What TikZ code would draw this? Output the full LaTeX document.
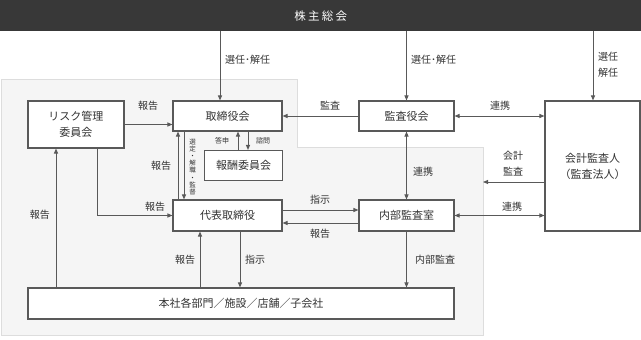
\documentclass[tikz,border=0pt]{standalone}
\usepackage{fontspec}
\setmainfont{Noto Sans CJK JP}
\usetikzlibrary{arrows.meta}
\definecolor{linec}{HTML}{595959}
\definecolor{textc}{HTML}{333333}
\definecolor{barc}{HTML}{383838}
\definecolor{regionc}{HTML}{F5F5F5}
\definecolor{regionb}{HTML}{DDDDDD}
\begin{document}
\begin{tikzpicture}[x=1pt,y=-1pt,
  box/.style={draw=linec, line width=1.1pt, fill=white, inner sep=0pt, text=textc, font=\fontsize{11}{16}\selectfont, align=center},
  arr/.style={draw=linec, line width=1pt, -{Triangle[length=5pt,width=4pt]}},
  darr/.style={draw=linec, line width=1pt, {Triangle[length=5pt,width=4pt]}-{Triangle[length=5pt,width=4pt]}},
  lbl/.style={text=textc, font=\fontsize{10}{16}\selectfont, inner sep=0pt, align=center},
  small/.style={text=textc, font=\fontsize{6.5}{7.2}\selectfont, inner sep=0pt, align=center}]
\useasboundingbox (0,0) rectangle (641,340);
\fill[white] (0,0) rectangle (641,340);
\filldraw[fill=regionc, draw=regionb, line width=0.8pt] (1,79) -- (297,79) -- (297,147) -- (483,147) -- (483,335) -- (1,335) -- cycle;
\node[fill=barc, minimum width=641pt, minimum height=31pt, anchor=north west, inner sep=0pt, text=white, font=\fontsize{11.5}{16}\selectfont\addfontfeature{LetterSpace=20}] (top) at (0,0) {株主総会};
% boxes
\node[box, minimum width=96pt, minimum height=47pt] (risk) at (76,124.5) {リスク管理\\委員会};
\node[box, minimum width=109pt, minimum height=30pt] (board) at (227.5,116) {取締役会};
\node[box, minimum width=78pt, minimum height=30pt] (comp) at (243.5,165.5) {報酬委員会};
\node[box, minimum width=109pt, minimum height=31pt] (rep) at (227.5,215.5) {代表取締役};
\node[box, minimum width=95pt, minimum height=30pt] (kansa) at (406.5,116) {監査役会};
\node[box, minimum width=95pt, minimum height=31pt] (naibu) at (406.5,215.5) {内部監査室};
\node[box, minimum width=95pt, minimum height=130pt] (auditor) at (592.5,166) {会計監査人\\（監査法人）};
\node[box, minimum width=426pt, minimum height=31pt] (honsha) at (241,303.5) {本社各部門／施設／店舗／子会社};
% helper coordinates
\coordinate (c220) at (220,0);
\coordinate (c593) at (593,0);
\coordinate (c97) at (97,0);
\coordinate (c56) at (56,0);
\coordinate (c178) at (178,0);
\coordinate (c184) at (184,0);
\coordinate (c238) at (238,0);
\coordinate (c248) at (248,0);
\coordinate (c200) at (200,0);
\coordinate (c240) at (240,0);
\coordinate (y182) at (0,182);
\coordinate (y210) at (0,210);
\coordinate (y223) at (0,223);
\coordinate (edge) at (483,182);
% from top
\draw[arr] (top.south -| c220) -- (board.north -| c220);
\node[lbl, anchor=west] (l1) at (225,60) {選任･解任};
\draw[arr] (top.south -| kansa.north) -- (kansa.north);
\node[lbl, anchor=west] (l2) at (411,60) {選任･解任};
\draw[arr] (top.south -| c593) -- (auditor.north -| c593);
\node[lbl, anchor=west] (l3) at (598,65) {選任\\解任};
% risk
\draw[arr] (risk.east) -- (board.west |- risk.east);
\node[lbl] (l4) at (148,106) {報告};
\draw[arr] (risk.south -| c97) |- (rep.west);
\node[lbl] (l5) at (155,207) {報告};
\draw[arr] (honsha.north -| c56) -- (risk.south -| c56);
\node[lbl] (l6) at (40,215) {報告};
% board <-> rep
\draw[arr] (rep.north -| c178) -- (board.south -| c178);
\draw[arr] (board.south -| c184) -- (rep.north -| c184);
\node[lbl] (l7) at (161,166) {報告};
\node[small] (l8) at (192.5,167) {選\\定\\・\\解\\職\\・\\監\\督};
% comp
\draw[arr] (comp.north -| c238) -- (board.south -| c238);
\draw[arr] (board.south -| c248) -- (comp.north -| c248);
\node[lbl, font=\fontsize{7}{8}\selectfont] (l9) at (222,141) {答申};
\node[lbl, font=\fontsize{7}{8}\selectfont] (l10) at (263,141) {諮問};
% kansa
\draw[arr] (kansa.west) -- (board.east);
\node[lbl] (l11) at (330,106) {監査};
\draw[darr] (kansa.east) -- (auditor.west |- kansa.east);
\node[lbl] (l12) at (500,106) {連携};
\draw[darr] (kansa.south) -- (naibu.north);
\node[lbl] (l13) at (423,172) {連携};
% auditor
\draw[arr] (auditor.west |- y182) -- (edge);
\node[lbl] (l14) at (513,164) {会計\\監査};
\draw[darr] (naibu.east) -- (auditor.west |- naibu.east);
\node[lbl] (l15) at (512,207) {連携};
% rep <-> naibu
\draw[arr] (rep.east |- y210) -- (naibu.west |- y210);
\node[lbl] (l16) at (320,200) {指示};
\draw[arr] (naibu.west |- y223) -- (rep.east |- y223);
\node[lbl] (l17) at (320,234) {報告};
% to honsha
\draw[arr] (honsha.north -| c200) -- (rep.south -| c200);
\node[lbl] (l18) at (185,260) {報告};
\draw[arr] (rep.south -| c240) -- (honsha.north -| c240);
\node[lbl] (l19) at (255,260) {指示};
\draw[arr] (naibu.south) -- (honsha.north -| naibu.south);
\node[lbl] (l20) at (435,260) {内部監査};
\end{tikzpicture}
\end{document}
